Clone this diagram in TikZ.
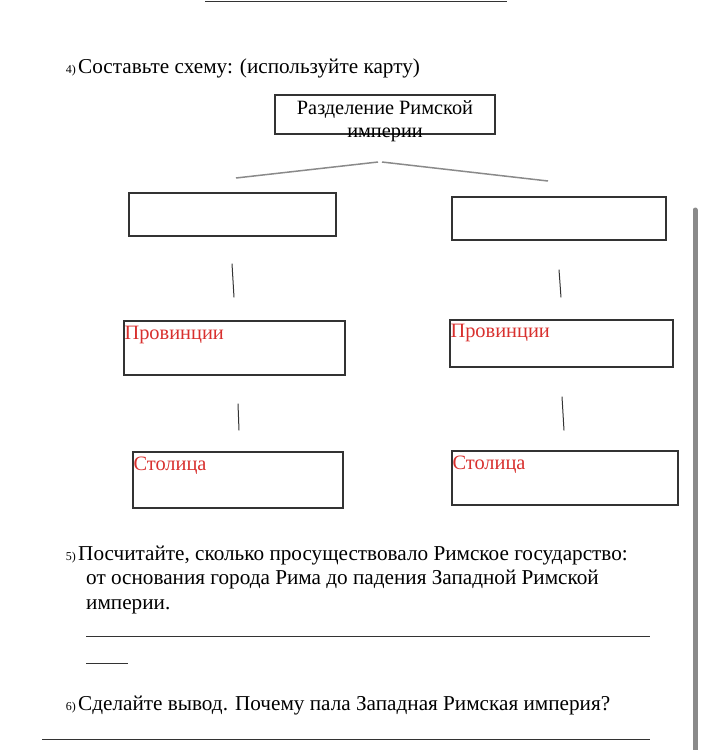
\documentclass[tikz,border=0pt]{standalone}
\usepackage{fontspec}
\setmainfont{Liberation Serif}
\usetikzlibrary{positioning}
\definecolor{hint}{HTML}{D8302E}
\definecolor{link}{HTML}{8A8A8A}
\definecolor{frame}{HTML}{333333}

\begin{document}
\begin{tikzpicture}[
  x=1pt,y=-1pt,
  cell/.style={draw=frame,line width=1.3pt,inner sep=0pt},
  task/.style={anchor=base west,inner sep=0pt,font=\fontsize{21.2}{24.5}\selectfont},
  num/.style={anchor=base east,inner sep=0pt,font=\fontsize{12}{14}\selectfont},
  hintlbl/.style={anchor=north west,inner sep=0pt,text=hint,font=\fontsize{20.4}{22}\selectfont},
  rule/.style={draw=black!80,line width=1pt},
]
  \useasboundingbox (0,0) rectangle (704,750);

  % question 4
  \draw[rule] (205,1) -- (507,1);
  \node[num] (n4) at (76,73) {4)};
  \node[task] (q4) at (78,73) {Составьте схему: (используйте карту)};

  % scheme
  \node[cell,minimum width=220pt,minimum height=39pt] (root) at (385,114.5) {};
  \node[align=center,inner sep=0pt,font=\fontsize{20.3}{23}\selectfont] (roottxt) at (385,121) {Разделение Римской\\империи};

  \node[cell,minimum width=207pt,minimum height=43pt] (west) at (232.5,214.5) {};
  \node[cell,minimum width=214pt,minimum height=43pt] (east) at (559,218.5) {};
  \node[cell,minimum width=221pt,minimum height=54pt] (wprov) at (234.5,348) {};
  \node[cell,minimum width=223pt,minimum height=47pt] (eprov) at (561.5,343.5) {};
  \node[cell,minimum width=210pt,minimum height=56pt] (wcap) at (238,480) {};
  \node[cell,minimum width=226pt,minimum height=54pt] (ecap) at (565,478) {};

  \node[hintlbl] (wprovtxt) at ([xshift=1pt,yshift=-6pt]wprov.north west) {Провинции};
  \node[hintlbl] (eprovtxt) at ([xshift=1pt,yshift=-5pt]eprov.north west) {Провинции};
  \node[hintlbl] (wcaptxt) at ([xshift=1pt,yshift=-5.5pt]wcap.north west) {Столица};
  \node[hintlbl] (ecaptxt) at ([xshift=1pt,yshift=-5.5pt]ecap.north west) {Столица};

  % links (loose, not touching the boxes)
  \coordinate (fork1) at (378,162);
  \coordinate (fork2) at (382,162);
  \draw[link,line width=1.5pt] (fork1) -- (236,178);
  \draw[link,line width=1.5pt] (fork2) -- (548,181);
  \draw[frame,line width=1pt] ([xshift=-0.5pt,yshift=-27pt]west.south) -- ([xshift=-0.5pt,yshift=23pt]wprov.north);
  \draw[frame,line width=1pt] ([xshift=0pt,yshift=-29pt]east.south) -- ([xshift=-0.5pt,yshift=22pt]eprov.north);
  \draw[frame,line width=1pt] ([xshift=3.5pt,yshift=-28pt]wprov.south) -- ([xshift=1pt,yshift=21pt]wcap.north);
  \draw[frame,line width=1pt] ([xshift=0.5pt,yshift=-29pt]eprov.south) -- ([xshift=-1pt,yshift=20pt]ecap.north);

  % scroll bar
  \draw[link,line width=5pt,line cap=round] (695,210) -- (695,752);

  % question 5
  \node[num] (n5) at (76,560) {5)};
  \node[task] (q5) at (78,560) {Посчитайте, сколько просуществовало Римское государство:};
  \node[task] (q5b) at (86,584.5) {от основания города Рима до падения Западной Римской};
  \node[task] (q5c) at (86,609) {империи.};
  \draw[rule] (86,636) -- (650,636);
  \draw[rule] (86,663) -- (128,663);

  % question 6
  \node[num] (n6) at (76,710) {6)};
  \node[task] (q6) at (78,710) {Сделайте вывод. Почему пала Западная Римская империя?};
  \draw[rule] (42,739) -- (650,739);
\end{tikzpicture}
\end{document}
